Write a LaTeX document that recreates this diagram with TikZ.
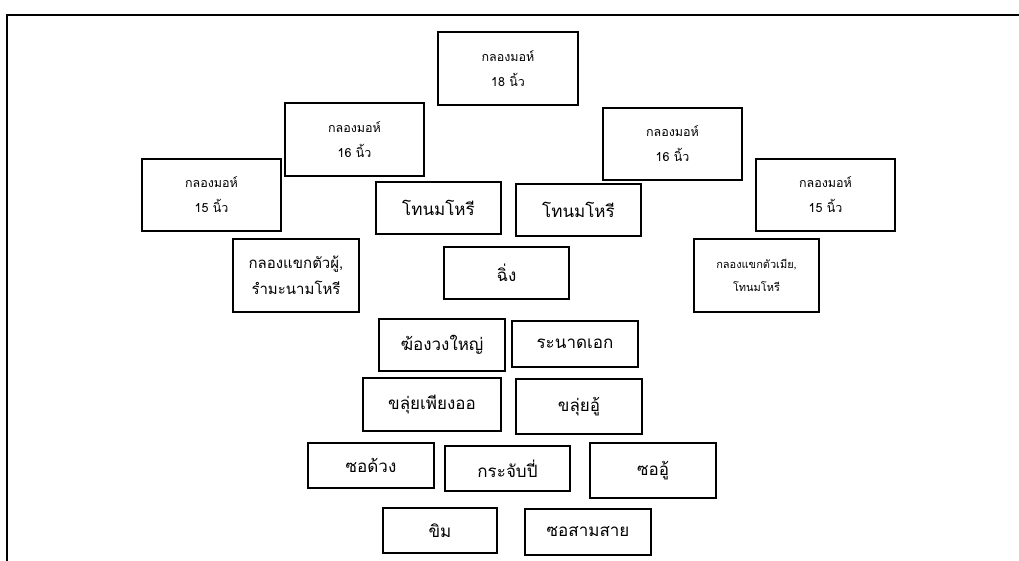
\documentclass[tikz,border=0pt]{standalone}
\usepackage{fontspec}
\newfontfamily\thaifont[Script=Thai]{Loma}
\tikzset{
  box/.style={draw=black, line width=1.8pt, inner sep=0pt, align=center, fill=white},
  bigtxt/.style={font=\thaifont\fontsize{17}{22}\selectfont},
  twotxt/.style={font=\thaifont\fontsize{12.5}{25}\selectfont},
  midtxt/.style={font=\thaifont\fontsize{15}{26}\selectfont},
  tinytxt/.style={font=\thaifont\fontsize{11}{23}\selectfont},
}
% box from its left/top/right/bottom edges (picture units)
\newcommand{\instrbox}[7]{%
  \node[box,#7, minimum width={(#4-#2)*1pt}, minimum height={(#5-#3)*1pt}]
    (#1) at ({(#2+#4)/2},{(#3+#5)/2}) {#6};}
\begin{document}
\begin{tikzpicture}[x=1pt,y=-1pt]
\useasboundingbox (0,0) rectangle (1019,561);
% page frame
\coordinate (ftl) at (7,15);
\coordinate (ftr) at (1019,15);
\coordinate (fbl) at (7,561);
\draw[line width=1.3pt] (fbl) -- (ftl) -- (ftr);
% drums
\instrbox{m18}{438}{32}{578}{105}{กลองมอห์\\18 นิ้ว}{twotxt}
\instrbox{m16l}{285}{103}{424}{176}{กลองมอห์\\16 นิ้ว}{twotxt}
\instrbox{m16r}{603}{108}{742}{180}{กลองมอห์\\16 นิ้ว}{twotxt}
\instrbox{m15l}{142}{159}{281}{231}{กลองมอห์\\15 นิ้ว}{twotxt}
\instrbox{m15r}{756}{159}{895}{231}{กลองมอห์\\15 นิ้ว}{twotxt}
\instrbox{thonl}{376}{182}{501}{234}{โทนมโหรี}{bigtxt}
\instrbox{thonr}{516}{184}{641}{236}{โทนมโหรี}{bigtxt}
\instrbox{khaekm}{233}{239}{359}{312}{กลองแขกตัวผู้,\\รำมะนามโหรี}{midtxt}
\instrbox{khaekf}{694}{239}{819}{312}{กลองแขกตัวเมีย,\\โทนมโหรี}{tinytxt}
\instrbox{ching}{444}{247}{569}{299}{ฉิ่ง}{bigtxt}
% melodic instruments
\instrbox{khong}{379}{319}{505}{371}{ฆ้องวงใหญ่}{bigtxt}
\instrbox{ranat}{512}{321}{638}{367}{ระนาดเอก}{bigtxt}
\instrbox{khluip}{363}{378}{501}{431}{ขลุ่ยเพียงออ}{bigtxt}
\instrbox{khluiu}{516}{379}{642}{434}{ขลุ่ยอู้}{bigtxt}
\instrbox{sodaung}{308}{443}{434}{488}{ซอด้วง}{bigtxt}
\instrbox{krachap}{445}{446}{570}{491}{กระจับปี่}{bigtxt}
\instrbox{sou}{590}{443}{716}{498}{ซออู้}{bigtxt}
\instrbox{khim}{383}{508}{497}{553}{ขิม}{bigtxt}
\instrbox{sosam}{525}{509}{651}{555}{ซอสามสาย}{bigtxt}
\end{tikzpicture}
\end{document}
